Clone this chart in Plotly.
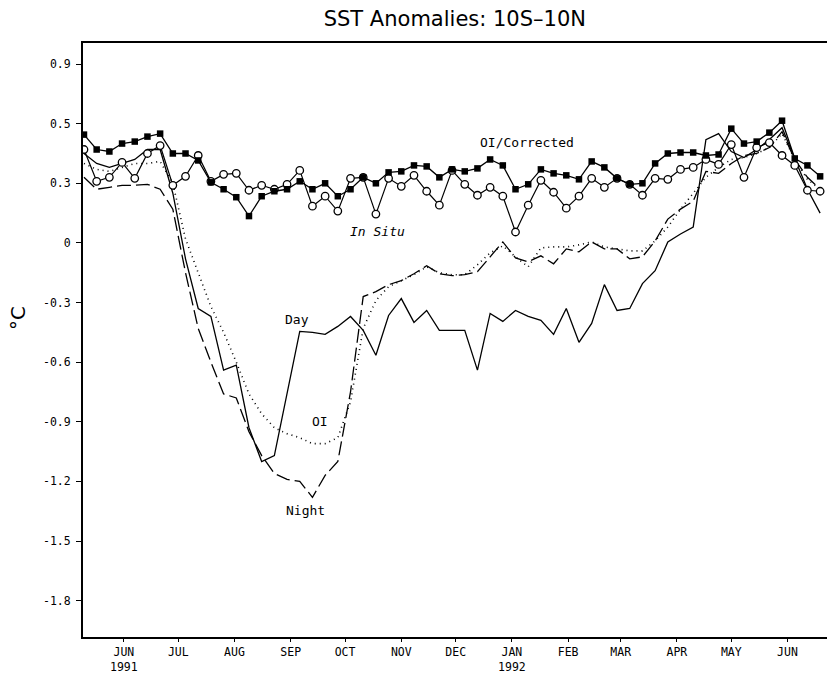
import plotly.graph_objects as go
import pandas as pd

# weekly analysis dates
dates = pd.date_range("1991-05-10", periods=59, freq="7D")

oi_corrected = [0.545, 0.47, 0.46, 0.50, 0.51, 0.535, 0.55, 0.45, 0.45, 0.415,
                0.305, 0.27, 0.23, 0.135, 0.235, 0.26, 0.27, 0.31, 0.27, 0.30,
                0.235, 0.27, 0.33, 0.30, 0.355, 0.36, 0.39, 0.385, 0.33, 0.37,
                0.36, 0.375, 0.42, 0.39, 0.27, 0.295, 0.37, 0.35, 0.34, 0.32,
                0.41, 0.38, 0.325, 0.295, 0.30, 0.40, 0.45, 0.455, 0.455, 0.44,
                0.445, 0.575, 0.50, 0.51, 0.555, 0.615, 0.425, 0.39, 0.335]

in_situ = [0.47, 0.31, 0.33, 0.405, 0.325, 0.45, 0.49, 0.29, 0.335, 0.44,
           0.31, 0.345, 0.35, 0.265, 0.29, 0.27, 0.295, 0.365, 0.185, 0.235,
           0.16, 0.325, 0.33, 0.145, 0.325, 0.285, 0.34, 0.26, 0.19, 0.365,
           0.295, 0.24, 0.28, 0.235, 0.055, 0.19, 0.315, 0.255, 0.175, 0.235,
           0.325, 0.28, 0.325, 0.295, 0.24, 0.325, 0.32, 0.37, 0.38, 0.42,
           0.395, 0.495, 0.33, 0.48, 0.505, 0.44, 0.39, 0.265, 0.26]

day = [0.45, 0.40, 0.38, 0.40, 0.42, 0.47, 0.47, 0.25, -0.08, -0.33,
       -0.37, -0.64, -0.615, -0.93, -1.10, -1.07, -0.75, -0.445, -0.45, -0.46,
       -0.42, -0.37, -0.44, -0.565, -0.365, -0.28, -0.40, -0.34, -0.44, -0.44,
       -0.44, -0.64, -0.355, -0.395, -0.34, -0.37, -0.39, -0.46, -0.33, -0.50,
       -0.405, -0.21, -0.34, -0.33, -0.205, -0.14, 0.005, 0.045, 0.08, 0.52,
       0.55, 0.46, 0.43, 0.47, 0.52, 0.58, 0.42, 0.27, 0.15]

night = [0.33, 0.27, 0.28, 0.29, 0.29, 0.295, 0.27, 0.17, -0.15, -0.43,
         -0.60, -0.76, -0.78, -0.95, -1.07, -1.16, -1.19, -1.20, -1.28, -1.17,
         -1.10, -0.75, -0.27, -0.245, -0.21, -0.19, -0.155, -0.115, -0.155, -0.165,
         -0.16, -0.145, -0.07, 0.005, -0.075, -0.095, -0.065, -0.105, -0.03, -0.045,
         0.005, -0.03, -0.03, -0.08, -0.07, 0.01, 0.12, 0.17, 0.21, 0.36,
         0.35, 0.40, 0.44, 0.45, 0.48, 0.56, 0.42, 0.33, 0.27]

oi = [0.40, 0.37, 0.36, 0.38, 0.40, 0.40, 0.41, 0.30, 0.02, -0.15,
      -0.32, -0.45, -0.60, -0.76, -0.86, -0.93, -0.96, -0.98, -1.01, -1.01,
      -0.98, -0.80, -0.43, -0.29, -0.22, -0.19, -0.16, -0.12, -0.15, -0.16,
      -0.16, -0.11, -0.05, -0.015, -0.07, -0.12, -0.025, -0.02, -0.02, -0.01,
      0.005, -0.02, -0.03, -0.04, -0.04, 0.01, 0.08, 0.17, 0.25, 0.33,
      0.38, 0.42, 0.43, 0.45, 0.48, 0.55, 0.42, 0.32, 0.27]

month_ticks = pd.date_range("1991-06-01", "1992-06-01", freq="MS")
month_labels = ["JUN<br>1991", "JUL", "AUG", "SEP", "OCT", "NOV", "DEC",
                "JAN<br>1992", "FEB", "MAR", "APR", "MAY", "JUN"]

y_ticks = [0.9, 0.6, 0.3, 0, -0.3, -0.6, -0.9, -1.2, -1.5, -1.8]
y_labels = ["0.9", "0.5", "0.3", "0", "-0.3", "-0.6", "-0.9", "-1.2", "-1.5", "-1.8"]

fig = go.Figure()
fig.add_trace(go.Scatter(x=dates, y=day, mode="lines", name="Day",
                         line=dict(color="black", width=1.3)))
fig.add_trace(go.Scatter(x=dates, y=night, mode="lines", name="Night",
                         line=dict(color="black", width=1.3, dash="14px,5px")))
fig.add_trace(go.Scatter(x=dates, y=oi, mode="lines", name="OI",
                         line=dict(color="black", width=1.6, dash="1px,4px")))
fig.add_trace(go.Scatter(x=dates, y=in_situ, mode="lines+markers", name="In Situ",
                         line=dict(color="black", width=1.2),
                         marker=dict(symbol="circle", size=7.5, color="white",
                                     line=dict(color="black", width=1.3))))
fig.add_trace(go.Scatter(x=dates, y=oi_corrected, mode="lines+markers", name="OI/Corrected",
                         line=dict(color="black", width=1.3),
                         marker=dict(symbol="square", size=6.5, color="black")))

mono = "DejaVu Sans Mono, Liberation Mono, monospace"
labels = [
    ("OI/Corrected", 0.597, 0.833, False),
    ("In Situ", 0.3965, 0.682, True),
    ("Day", 0.288, 0.534, False),
    ("OI", 0.3185, 0.3636, False),
    ("Night", 0.2997, 0.2138, False),
]
annotations = []
for txt, xp, yp, ital in labels:
    annotations.append(dict(text=("<i>%s</i>" % txt) if ital else txt,
                            x=xp, y=yp, xref="paper", yref="paper",
                            xanchor="center", yanchor="middle", showarrow=False,
                            font=dict(family=mono, size=13, color="black")))

annotations.append(dict(text="°C", x=(18 - 83) / 744, y=(637 - 318) / 594,
                        xref="paper", yref="paper", xanchor="center", yanchor="middle",
                        showarrow=False, textangle=-90,
                        font=dict(family="DejaVu Sans, sans-serif", size=20, color="black")))

fig.update_layout(
    width=827, height=676,
    margin=dict(l=83, r=0, t=43, b=39),
    paper_bgcolor="white", plot_bgcolor="white",
    showlegend=False,
    title=dict(text="SST Anomalies: 10S–10N", x=0.55, xanchor="center",
               y=0.973, yanchor="middle",
               font=dict(family="DejaVu Sans, sans-serif", size=21, color="black")),
    annotations=annotations,
    xaxis=dict(type="date",
               range=["1991-05-09 11:00", "1992-06-22 19:00"],
               tickmode="array", tickvals=month_ticks, ticktext=month_labels,
               ticks="outside", ticklen=3, tickcolor="black",
               showline=True, linecolor="black", linewidth=2, mirror=True,
               showgrid=False, zeroline=False,
               tickfont=dict(family=mono, size=11.5, color="black")),
    yaxis=dict(range=[-1.983, 1.006],
               tickmode="array", tickvals=y_ticks, ticktext=y_labels,
               ticks="outside", ticklen=5, tickcolor="black", ticklabelstandoff=3,
               showline=True, linecolor="black", linewidth=2, mirror=False,
               showgrid=False, zeroline=False,
               tickfont=dict(family=mono, size=11.5, color="black")),
)

fig.write_html("out.html")
